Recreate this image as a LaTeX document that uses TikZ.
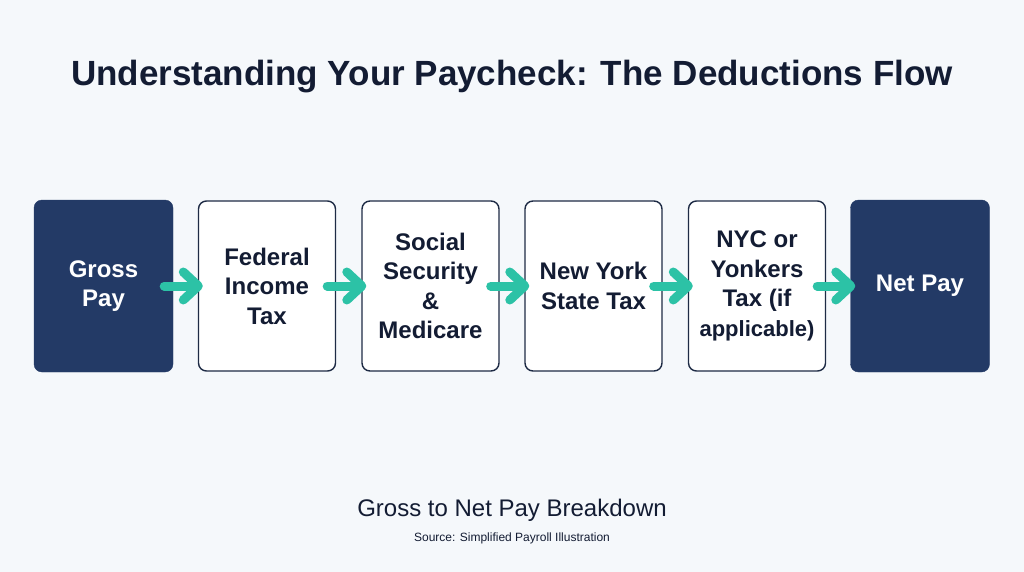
\documentclass[tikz,border=0pt]{standalone}
\usepackage{fontspec}
\setmainfont{Liberation Sans}
\usetikzlibrary{arrows.meta}

\definecolor{pagebg}{HTML}{F5F8FB}
\definecolor{navyfill}{HTML}{233A66}
\definecolor{navyline}{HTML}{1E2B45}
\definecolor{inkdark}{HTML}{131C33}
\definecolor{flowteal}{HTML}{2CC2A6}

\tikzset{
	darkstep/.style={draw=navyfill, fill=navyfill, rounded corners=8pt, minimum width=139pt,
		minimum height=172pt, align=center, text=white, font=\fontsize{24}{29.5}\selectfont\bfseries},
	lightstep/.style={draw=navyline, fill=white, line width=1.4pt, rounded corners=8pt, minimum width=137pt,
		minimum height=170pt, align=center, text=inkdark, font=\fontsize{24}{29.5}\selectfont\bfseries},
	flowarrow/.style={draw=flowteal, line width=9pt, line cap=round,
		-{Straight Barb[length=15pt, width=28pt, line cap=round, line join=round]}}
}

\begin{document}
\begin{tikzpicture}[x=1pt, y=-1pt]
	
	%Page
	\fill[pagebg] (0,0) rectangle (1024,572);
	\useasboundingbox (0,0) rectangle (1024,572);
	
	%Title
	\node (title) at (512,77) [text=inkdark, font=\fontsize{35}{40}\selectfont\bfseries]{Understanding Your Paycheck: The Deductions Flow};
	
	%First block
	\node (gross) at (103.5,286) [darkstep]{Gross\\Pay};
	
	%Second block
	\node (federal) at (267,286) [lightstep]{Federal\\Income\\Tax};
	
	%Third block
	\node (social) at (430.5,286) [lightstep]{Social\\Security\\\&\\Medicare};
	
	%Fourth block
	\node (state) at (593.5,286) [lightstep]{New York\\State Tax};
	
	%Fifth block
	\node (city) at (757,286) [lightstep]{NYC or\\Yonkers\\Tax (if\\{\fontsize{22}{26}\selectfont applicable)}};
	
	%Sixth block
	\node (net) at (920,286) [darkstep]{Net Pay};
	
	%Arrows between the blocks
	\draw[flowarrow] ([xshift=-9pt]gross.east) -- ([xshift=5pt]federal.west);
	\draw[flowarrow] ([xshift=-9pt]federal.east) -- ([xshift=5pt]social.west);
	\draw[flowarrow] ([xshift=-9pt]social.east) -- ([xshift=5pt]state.west);
	\draw[flowarrow] ([xshift=-9pt]state.east) -- ([xshift=5pt]city.west);
	\draw[flowarrow] ([xshift=-9pt]city.east) -- ([xshift=5pt]net.west);
	
	%Caption
	\node (caption) at (512,510) [text=inkdark, font=\fontsize{24}{28}\selectfont]{Gross to Net Pay Breakdown};
	\node (source) at (512,538) [text=inkdark, font=\fontsize{12}{14}\selectfont]{Source: Simplified Payroll Illustration};
	
\end{tikzpicture}
\end{document}
